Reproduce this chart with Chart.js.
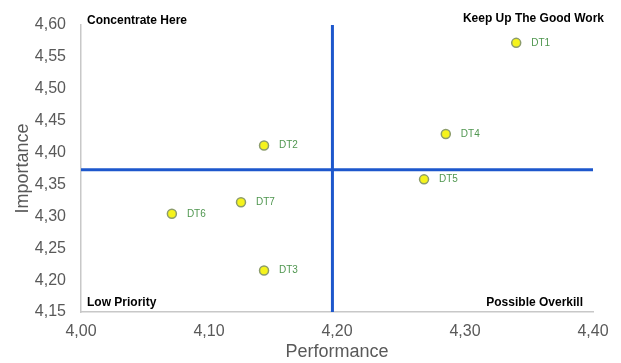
<!DOCTYPE html>
<html lang="en">
<head>
  <meta charset="UTF-8">
  <title>Importance vs Performance</title>
  <script src="https://cdn.jsdelivr.net/npm/chart.js"></script>
  <style>
    body {
      margin: 0;
      background-color: #fff;
    }
    canvas {
      display: block;
    }
  </style>
</head>
<body>
  <canvas id="ipaChart" width="621" height="363"></canvas>

  <script>
    // items and their scores
    const itemLabels = ['DT1', 'DT2', 'DT3', 'DT4', 'DT5', 'DT6', 'DT7'];
    const performance = [4.34, 4.143, 4.143, 4.285, 4.268, 4.071, 4.125];
    const importance = [4.572, 4.411, 4.215, 4.429, 4.358, 4.304, 4.322];

    const xTicks = [4.00, 4.10, 4.20, 4.30, 4.40];
    const yTicks = [4.15, 4.20, 4.25, 4.30, 4.35, 4.40, 4.45, 4.50, 4.55, 4.60];

    const quadrantNames = ['Concentrate Here', 'Keep Up The Good Work', 'Low Priority', 'Possible Overkill'];

    // crosshair sits on the averages
    const avg = arr => arr.reduce((a, b) => a + b, 0) / arr.length;
    const meanPerf = avg(performance);
    const meanImp = avg(importance);

    const xMin = xTicks[0], xMax = xTicks[xTicks.length - 1];
    const yMin = yTicks[0], yMax = yTicks[yTicks.length - 1];

    const fmt = v => v.toFixed(2).replace('.', ',');

    const points = performance.map((p, i) => ({ x: p, y: importance[i] }));

    const blue = '#1d57cc';

    // DT labels next to each point + the four quadrant captions
    const textPlugin = {
      id: 'ipaText',
      afterDatasetsDraw(chart) {
        const ctx = chart.ctx;
        const area = chart.chartArea;
        ctx.save();

        const meta = chart.getDatasetMeta(2);
        ctx.font = '10px "Liberation Sans", Arial, sans-serif';
        ctx.fillStyle = '#4f964f';
        ctx.textAlign = 'left';
        ctx.textBaseline = 'middle';
        meta.data.forEach((el, i) => {
          ctx.fillText(itemLabels[i], el.x + 15, el.y);
        });

        ctx.font = 'bold 12px "Liberation Sans", Arial, sans-serif';
        ctx.fillStyle = '#000';
        ctx.textAlign = 'left';
        ctx.fillText(quadrantNames[0], area.left + 6, area.top - 4);
        ctx.fillText(quadrantNames[2], area.left + 6, area.bottom - 9);
        ctx.textAlign = 'right';
        ctx.fillText(quadrantNames[1], area.right + 11, area.top - 6);
        ctx.fillText(quadrantNames[3], area.right - 10, area.bottom - 9);

        ctx.restore();
      }
    };

    const ctx = document.getElementById('ipaChart').getContext('2d');
    const ipaChart = new Chart(ctx, {
      type: 'scatter',
      data: {
        datasets: [
          {
            type: 'line',
            data: [{ x: meanPerf, y: yMin }, { x: meanPerf, y: yMax }],
            borderColor: blue,
            borderWidth: 3,
            pointRadius: 0,
            fill: false,
            order: 2
          },
          {
            type: 'line',
            data: [{ x: xMin, y: meanImp }, { x: xMax, y: meanImp }],
            borderColor: blue,
            borderWidth: 3,
            pointRadius: 0,
            fill: false,
            order: 2
          },
          {
            data: points,
            backgroundColor: '#f5f31c',
            borderColor: '#8c9c6c',
            borderWidth: 1.5,
            pointRadius: 4.5,
            order: 1
          }
        ]
      },
      options: {
        responsive: false,
        animation: false,
        layout: {
          padding: { left: 0, right: 28, top: 25, bottom: 0 }
        },
        plugins: {
          legend: { display: false },
          tooltip: { enabled: false }
        },
        scales: {
          x: {
            type: 'linear',
            min: xMin,
            max: xMax,
            afterBuildTicks: scale => { scale.ticks = xTicks.map(v => ({ value: v })); },
            afterFit: scale => { scale.height = 51; },
            grid: { display: false },
            border: { display: true, color: '#c8c8c8', width: 1.5 },
            ticks: {
              color: '#595959',
              padding: 2,
              font: { family: '"Liberation Sans", Arial, sans-serif', size: 16 },
              callback: v => fmt(v)
            },
            title: {
              display: true,
              text: 'Performance',
              color: '#595959',
              padding: { top: 0, bottom: 0 },
              font: { family: '"Liberation Sans", Arial, sans-serif', size: 18 }
            }
          },
          y: {
            type: 'linear',
            min: yMin,
            max: yMax,
            afterBuildTicks: scale => { scale.ticks = yTicks.map(v => ({ value: v })); },
            afterFit: scale => { scale.width = 81; },
            grid: { display: false },
            border: { display: true, color: '#c8c8c8', width: 1.5 },
            ticks: {
              color: '#595959',
              padding: 7,
              font: { family: '"Liberation Sans", Arial, sans-serif', size: 16 },
              callback: v => fmt(v)
            },
            title: {
              display: true,
              text: 'Importance',
              color: '#595959',
              padding: { top: 12, bottom: 0 },
              font: { family: '"Liberation Sans", Arial, sans-serif', size: 18 }
            }
          }
        }
      },
      plugins: [textPlugin]
    });
  </script>
</body>
</html>
